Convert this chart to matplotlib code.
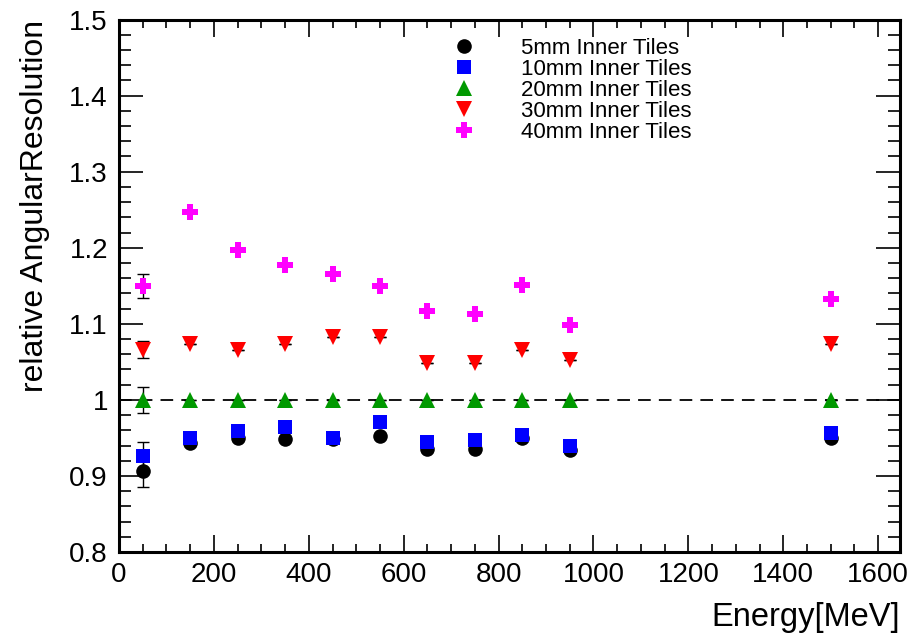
import matplotlib
matplotlib.use("Agg")
import matplotlib.pyplot as plt
from matplotlib.ticker import MultipleLocator

plt.rcParams['font.family'] = ['Liberation Sans', 'DejaVu Sans']

energy = [50, 150, 250, 350, 450, 550, 650, 750, 850, 950, 1500]

res_5mm = [0.906, 0.943, 0.950, 0.948, 0.949, 0.952, 0.936, 0.935, 0.950, 0.934, 0.950]
res_10mm = [0.926, 0.950, 0.959, 0.964, 0.950, 0.971, 0.944, 0.947, 0.954, 0.940, 0.956]
res_20mm = [1.0, 1.0, 1.0, 1.0, 1.0, 1.0, 1.0, 1.0, 1.0, 1.0, 1.0]
res_30mm = [1.066, 1.074, 1.066, 1.074, 1.082, 1.082, 1.048, 1.048, 1.066, 1.053, 1.073]
res_40mm = [1.150, 1.247, 1.197, 1.177, 1.166, 1.150, 1.117, 1.113, 1.151, 1.099, 1.132]

err_5mm = [0.021, 0, 0, 0, 0, 0, 0, 0, 0, 0, 0]
err_10mm = [0.018, 0, 0, 0, 0, 0, 0, 0, 0, 0, 0]
err_20mm = [0.017, 0, 0, 0, 0, 0, 0, 0, 0, 0, 0]
err_30mm = [0.011, 0, 0, 0, 0, 0, 0, 0, 0, 0, 0]
err_40mm = [0.016, 0, 0, 0, 0, 0, 0, 0, 0, 0, 0]

labels = ["5mm Inner Tiles", "10mm Inner Tiles", "20mm Inner Tiles",
          "30mm Inner Tiles", "40mm Inner Tiles"]

fig = plt.figure(figsize=(9.24, 6.36), dpi=100)
ax = fig.add_axes([119/924, 1 - 552/636, (900-119)/924, (552-19.5)/636])

ax.axhline(1.0, color='black', lw=1.3, dashes=(7, 4.5), zorder=1)

series = [
    (res_5mm, err_5mm, 'o', 'black', 10.5),
    (res_10mm, err_10mm, 's', 'blue', 10),
    (res_20mm, err_20mm, '^', '#009900', 11),
    (res_30mm, err_30mm, 'v', 'red', 11),
    (res_40mm, err_40mm, 'P', 'magenta', 11),
]
for i, (vals, errs, m, c, ms) in enumerate(series):
    ax.errorbar(energy, vals, yerr=errs, fmt='none', ecolor='black',
                elinewidth=1.0, capsize=4, capthick=1.0, zorder=2 + 2*i)
    ax.plot(energy, vals, linestyle='none', marker=m, color=c, markersize=ms,
            markeredgewidth=0, label=labels[i], zorder=3 + 2*i)

ax.set_xlim(0, 1646)
ax.set_ylim(0.8, 1.5)
ax.xaxis.set_major_locator(MultipleLocator(200))
ax.xaxis.set_minor_locator(MultipleLocator(50))
ax.yaxis.set_major_locator(MultipleLocator(0.1))
ax.yaxis.set_minor_locator(MultipleLocator(0.02))
ax.set_yticks([0.8, 0.9, 1.0, 1.1, 1.2, 1.3, 1.4, 1.5])
ax.set_yticklabels(['0.8', '0.9', '1', '1.1', '1.2', '1.3', '1.4', '1.5'])

for s in ax.spines.values():
    s.set_linewidth(2.2)

ax.tick_params(axis='both', which='both', direction='in', top=True, right=True,
               labelsize=20)
ax.tick_params(axis='x', which='major', length=12, width=1.2, pad=7)
ax.tick_params(axis='x', which='minor', length=6, width=1.2)
ax.tick_params(axis='y', which='major', length=17, width=1.2, pad=8)
ax.tick_params(axis='y', which='minor', length=8.5, width=1.2)

ax.set_xlabel('Energy[MeV]', fontsize=23.5, loc='right', labelpad=10)
ax.set_ylabel('relative AngularResolution', fontsize=23, loc='top', labelpad=14)

ax.legend(loc='upper left', bbox_to_anchor=(447/924, 1 - 38/636),
          bbox_transform=fig.transFigure, frameon=False, fontsize=16,
          handlelength=1.5, handletextpad=1.85, labelspacing=0.0,
          borderpad=0, borderaxespad=0, markerscale=1.0)

fig.savefig('out.png', dpi=100)
